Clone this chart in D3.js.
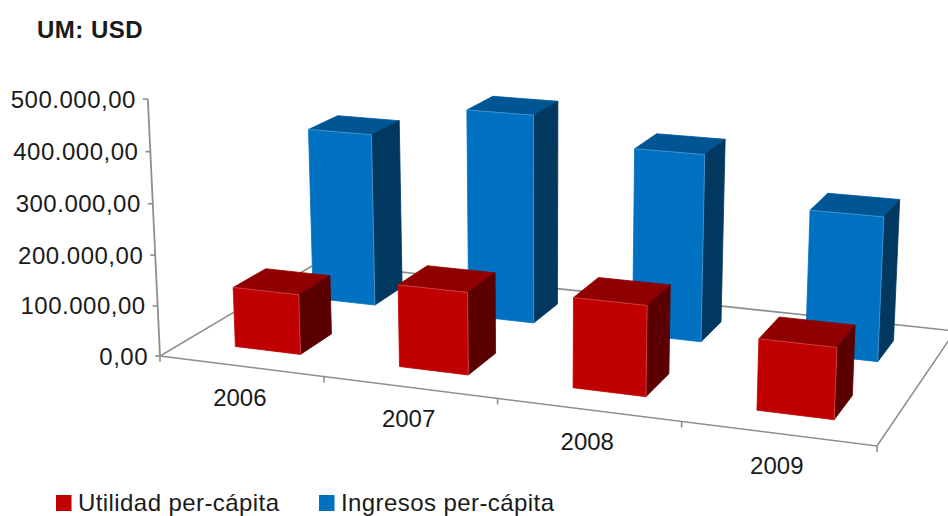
<!DOCTYPE html>
<html><head><meta charset="utf-8">
<script src="https://cdn.jsdelivr.net/npm/d3@7/dist/d3.min.js"></script>
<style>html,body{margin:0;padding:0;background:#fff;overflow:hidden}svg{display:block}
text{font-family:"Liberation Sans",Arial,sans-serif;fill:#1a1a1a}</style></head><body>
<svg id="c" width="948" height="516"></svg>
<script>
const categories = ["2006","2007","2008","2009"];
const seriesNames = ["Utilidad per-cápita","Ingresos per-cápita"];
const utilidad = [119000,160000,172000,133000];
const ingresos = [356000,422000,372000,282000];
const yTickValues = [0,100000,200000,300000,400000,500000];
const title = "UM: USD";
const seriesFaces = [
  {front:"#c00000",top:"#900000",side:"#5a0000"},
  {front:"#0070c0",top:"#005694",side:"#003860"}
];

const W=948,H=516;
const svg=d3.select("#c");
// Floor corners and vertical vanishing point of the 3D view
const q0=[160,356],q1=[877,446],q2=[955,331],q3=[317,263],vp=[540,8400],axisTop=[148,99];
const dx1=q1[0]-q2[0],dx2=q3[0]-q2[0],sx=q0[0]-q1[0]+q2[0]-q3[0];
const dy1=q1[1]-q2[1],dy2=q3[1]-q2[1],sy=q0[1]-q1[1]+q2[1]-q3[1];
const den=dx1*dy2-dx2*dy1;
const g=(sx*dy2-dx2*sy)/den,h=(dx1*sy-sx*dy1)/den;
const a=q1[0]-q0[0]+g*q1[0],b=q3[0]-q0[0]+h*q3[0],d=q1[1]-q0[1]+g*q1[1],e=q3[1]-q0[1]+h*q3[1];
const k=(axisTop[1]-q0[1])/(vp[1]-axisTop[1]);
function project(u,v,w){
  const W3=g*u+h*v+1+k*w;
  return [(a*u+b*v+q0[0]+k*vp[0]*w)/W3,(d*u+e*v+q0[1]+k*vp[1]*w)/W3];
}
const uTicks=d3.scaleBand().domain(categories).range([0,1]).paddingInner(0).paddingOuter(0);
const uScale=d3.scaleBand().domain(categories).range([0.003,1.003]).paddingInner(0.597).paddingOuter(0.2985);
const vScale=d3.scaleBand().domain(seriesNames).range([0,1]).paddingInner(0.6).paddingOuter(0.3);
const yScale=d3.scaleLinear().domain([0,500000]).range([0,1]);
const locale=d3.formatLocale({decimal:",",thousands:".",grouping:[3],currency:["$",""]});
const fmt=locale.format(",.2f");
const line=d3.line();
const axisColor="#8e8e8e";

// floor
const floor=svg.append("g").attr("fill","none").attr("stroke",axisColor).attr("stroke-width",1.6);
floor.append("path").attr("d",line([[0,1],[0,0],[1,0],[1,1],[0,1]].map(p=>project(p[0],p[1],0))));
// y axis
const axisG=svg.append("g");
axisG.append("path").attr("fill","none").attr("stroke",axisColor).attr("stroke-width",1.8)
  .attr("d",line([project(0,0,0),project(0,0,1)]));
yTickValues.forEach(t=>{
  const p=project(0,0,yScale(t));
  axisG.append("line").attr("x1",p[0]-5).attr("x2",p[0]).attr("y1",p[1]).attr("y2",p[1])
    .attr("stroke",axisColor).attr("stroke-width",1.6);
  axisG.append("text").attr("x",p[0]-12).attr("y",p[1]+8.5).attr("text-anchor","end")
    .attr("font-size",24).attr("letter-spacing",0.5).text(fmt(t));
});
// category ticks + labels
const step=uTicks.step();
d3.range(0,categories.length+1).forEach(i=>{
  const p=project(i*step,0,0);
  axisG.append("line").attr("x1",p[0]).attr("x2",p[0]).attr("y1",p[1]).attr("y2",p[1]+6)
    .attr("stroke",axisColor).attr("stroke-width",1.6);
});
categories.forEach(c=>{
  const p=project(uTicks(c)+uTicks.bandwidth()/2,0,0);
  axisG.append("text").attr("x",p[0]-1).attr("y",p[1]+40).attr("text-anchor","middle")
    .attr("font-size",24).text(c);
});

// bars: back series first, left to right
function drawBar(c,sName,val,col){
  const u0=uScale(c),u1=u0+uScale.bandwidth(),v0=vScale(sName),v1=v0+vScale.bandwidth(),w=yScale(val);
  const f00=project(u0,v0,0),f10=project(u1,v0,0),f01=project(u0,v0,w),f11=project(u1,v0,w),
        b10=project(u1,v1,0),b11=project(u1,v1,w),b01=project(u0,v1,w);
  const G=svg.append("g").attr("stroke-width",0.8).attr("stroke-linejoin","round");
  G.append("path").attr("d",line([f01,f11,b11,b01])+"Z").attr("fill",col.top).attr("stroke",col.top);
  G.append("path").attr("d",line([f10,b10,b11,f11])+"Z").attr("fill",col.side).attr("stroke",col.side);
  G.append("path").attr("d",line([f00,f10,f11,f01])+"Z").attr("fill",col.front).attr("stroke",col.front);
  G.append("path").attr("d",line([f01,f11,f10])).attr("fill","none").attr("stroke","#fff").attr("stroke-opacity",.3);
}
[[1,ingresos],[0,utilidad]].forEach(([i,vals])=>{
  categories.forEach((c,j)=>drawBar(c,seriesNames[i],vals[j],seriesFaces[i]));
});

// title
svg.append("text").attr("x",37).attr("y",38).attr("font-size",24).attr("letter-spacing",0.5).attr("font-weight","bold").attr("fill","#000").text(title);
// legend
const legendX=[56,319];
seriesNames.forEach((s,i)=>{
  svg.append("rect").attr("x",legendX[i]).attr("y",495).attr("width",15.5).attr("height",16).attr("fill",seriesFaces[i].front);
  svg.append("text").attr("x",legendX[i]+22).attr("y",511).attr("font-size",24).attr("letter-spacing",0.42).text(s);
});
</script></body></html>
